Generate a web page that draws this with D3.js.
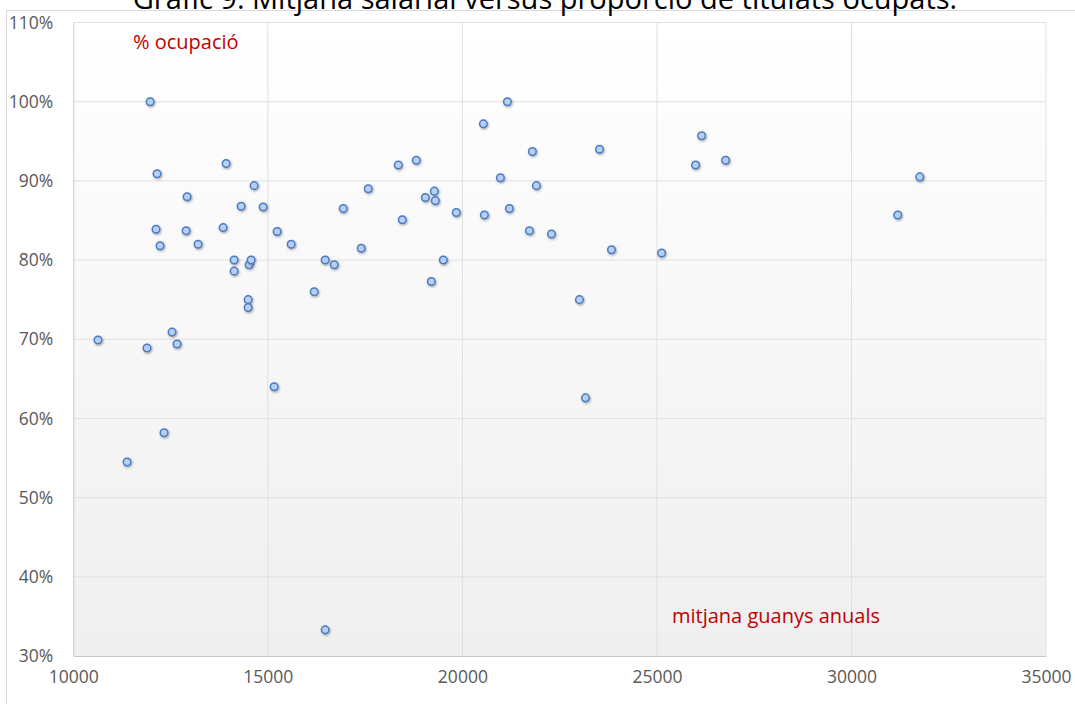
<!DOCTYPE html>
<html>
<head>
<meta charset="utf-8">
<script src="https://cdn.jsdelivr.net/npm/d3@7"></script>
<style>
  body { margin: 0; background: #fff; }
  svg { display: block; font-family: "Open Sans", Lato, sans-serif; }
</style>
</head>
<body>
<div id="chart"></div>
<script>
// mitjana guanys anuals (x) i % ocupació (y)
const salaries = [
  10635, 11383, 11975, 11895, 12153, 12127, 12230, 12333, 12539, 12667,
  12925, 12900, 13208, 13851, 13928, 14134, 14134, 14314, 14494, 14494,
  14520, 14571, 14648, 14880, 15163, 15240, 15600, 16192, 16475, 16475,
  16707, 16938, 17401, 17581, 18353, 18456, 18816, 19048, 19202, 19279,
  19305, 19511, 19845, 20540, 20566, 20977, 21157, 21208, 21723, 21800,
  21903, 22289, 23009, 23164, 23524, 23833, 25120, 25994, 26149, 26766,
  31190, 31756
];
const occupation = [
  0.699, 0.545, 1.000, 0.689, 0.909, 0.839, 0.818, 0.582, 0.709, 0.694,
  0.880, 0.837, 0.820, 0.841, 0.922, 0.800, 0.786, 0.868, 0.750, 0.740,
  0.794, 0.800, 0.894, 0.867, 0.640, 0.836, 0.820, 0.760, 0.333, 0.800,
  0.794, 0.865, 0.815, 0.890, 0.920, 0.851, 0.926, 0.879, 0.773, 0.887,
  0.875, 0.800, 0.860, 0.972, 0.857, 0.904, 1.000, 0.865, 0.837, 0.937,
  0.894, 0.833, 0.750, 0.626, 0.940, 0.813, 0.809, 0.920, 0.957, 0.926,
  0.857, 0.905
];
const xTicks = [10000, 15000, 20000, 25000, 30000, 35000];
const yTicks = [0.3, 0.4, 0.5, 0.6, 0.7, 0.8, 0.9, 1.0, 1.1];

const title = "Gràfic 9. Mitjana salarial versus proporció de titulats ocupats.";
const yLabel = "% ocupació";
const xLabel = "mitjana guanys anuals";

const width = 1075, height = 704;
const margin = { top: 22.5, right: 29, bottom: 48, left: 73.3 };

const svg = d3.select("#chart")
              .append("svg")
              .attr("width", width)
              .attr("height", height);

const defs = svg.append("defs");
const grad = defs.append("linearGradient")
                 .attr("id", "plotBg")
                 .attr("x1", 0).attr("y1", 0)
                 .attr("x2", 0).attr("y2", 1);
grad.append("stop").attr("offset", "0%").attr("stop-color", "#ffffff");
grad.append("stop").attr("offset", "100%").attr("stop-color", "#efefef");

const shadow = defs.append("filter")
                   .attr("id", "shadow")
                   .attr("x", "-50%").attr("y", "-50%")
                   .attr("width", "200%").attr("height", "200%");
shadow.append("feDropShadow")
      .attr("dx", 0.8).attr("dy", 1.2)
      .attr("stdDeviation", 0.8)
      .attr("flood-color", "#000")
      .attr("flood-opacity", 0.35);

// chart frame
svg.append("rect")
   .attr("x", 6.5).attr("y", 10.5)
   .attr("width", width + 10).attr("height", height)
   .attr("fill", "none")
   .attr("stroke", "#d9d9d9");

const x = d3.scaleLinear()
            .domain([10000, 35000])
            .range([margin.left, width - margin.right]);

const y = d3.scaleLinear()
            .domain([0.3, 1.1])
            .range([height - margin.bottom, margin.top]);

// plot area
svg.append("rect")
   .attr("x", x(10000)).attr("y", y(1.1))
   .attr("width", x(35000) - x(10000))
   .attr("height", y(0.3) - y(1.1))
   .attr("fill", "url(#plotBg)");

// gridlines
svg.append("g")
   .selectAll("line")
   .data(yTicks.slice(1))
   .join("line")
   .attr("x1", x(10000)).attr("x2", x(35000))
   .attr("y1", d => y(d)).attr("y2", d => y(d))
   .attr("stroke", "#e0e0e0")
   .attr("stroke-width", 1);

svg.append("g")
   .selectAll("line")
   .data(xTicks.slice(1))
   .join("line")
   .attr("x1", d => x(d)).attr("x2", d => x(d))
   .attr("y1", y(1.1)).attr("y2", y(0.3))
   .attr("stroke", "#e0e0e0")
   .attr("stroke-width", 1);

// axes
const xAxis = svg.append("g")
                 .attr("transform", `translate(0, ${y(0.3)})`)
                 .call(d3.axisBottom(x).tickValues(xTicks).tickSize(0).tickPadding(15)
                         .tickFormat(d3.format("d")));

const yAxis = svg.append("g")
                 .attr("transform", `translate(${x(10000)}, 0)`)
                 .call(d3.axisLeft(y).tickValues(yTicks).tickSize(0).tickPadding(20)
                         .tickFormat(d3.format(".0%")));

[xAxis, yAxis].forEach(a => {
  a.select(".domain").attr("stroke", "#c8c8c8");
  a.selectAll("text")
   .attr("fill", "#595959")
   .style("font-size", "17.5px")
   .style("font-family", "'Open Sans', Lato, sans-serif");
});

// points
svg.append("g")
   .selectAll("circle")
   .data(salaries.map((s, i) => [s, occupation[i]]))
   .join("circle")
   .attr("cx", d => x(d[0]))
   .attr("cy", d => y(d[1]))
   .attr("r", 3.8)
   .attr("fill", "#b7cff2")
   .attr("stroke", "#4a7bc4")
   .attr("stroke-width", 1.5)
   .attr("filter", "url(#shadow)");

// texts
svg.append("text")
   .attr("x", 545)
   .attr("y", 9)
   .attr("text-anchor", "middle")
   .attr("fill", "#000")
   .style("font-size", "29px")
   .text(title);

svg.append("text")
   .attr("x", 133)
   .attr("y", 49)
   .attr("fill", "#c00000")
   .style("font-size", "20px")
   .text(yLabel);

svg.append("text")
   .attr("x", 672)
   .attr("y", 623)
   .attr("fill", "#c00000")
   .style("font-size", "20px")
   .text(xLabel);
</script>
</body>
</html>
